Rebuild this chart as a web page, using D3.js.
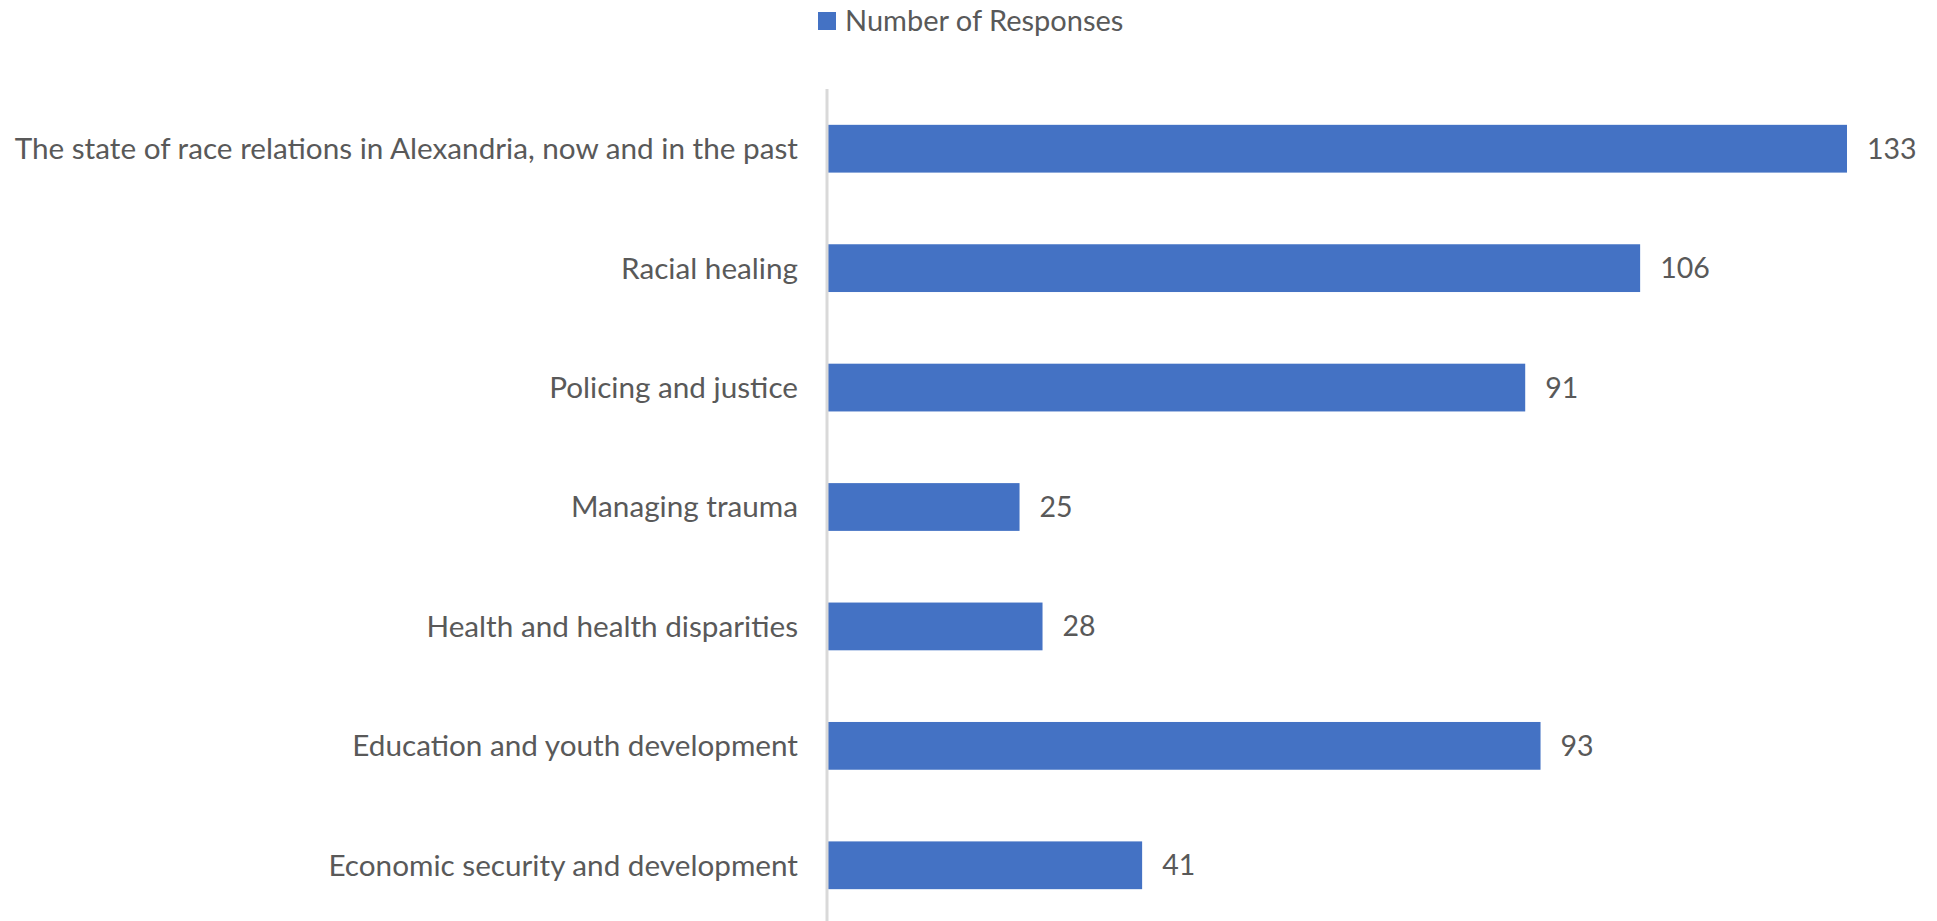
<!DOCTYPE html>
<html>
<head>
<meta charset="utf-8">
<script src="https://cdn.jsdelivr.net/npm/d3@7"></script>
<style>
  body { margin: 0; background: #ffffff; }
  svg { display: block; font-family: Lato, "Open Sans", sans-serif; }
  .cat-label, .val-label, .legend-label { fill: #595959; }
</style>
</head>
<body>
<svg class="bar-chart" width="1937" height="921"></svg>
<script>
// data (top to bottom)
var categories = [
  'The state of race relations in Alexandria, now and in the past',
  'Racial healing',
  'Policing and justice',
  'Managing trauma',
  'Health and health disparities',
  'Education and youth development',
  'Economic security and development'
];
var responses = [133, 106, 91, 25, 28, 93, 41];
var seriesName = 'Number of Responses';

var data = categories.map(function(c, i) {
  return {category: c, value: responses[i]};
});

var svg = d3.select('.bar-chart');
var axisX = 828;

var xScale = d3.scaleLinear()
    .domain([0, 133])
    .range([axisX, 1847]);

var yScale = d3.scaleBand()
    .domain(categories)
    .range([89, 925])
    .paddingInner(0.6)
    .paddingOuter(0.3);

// bars
svg.selectAll('.bar')
    .data(data)
  .enter().append('rect')
    .attr('class', 'bar')
    .attr('x', xScale(0))
    .attr('y', function(d) { return yScale(d.category); })
    .attr('width', function(d) { return xScale(d.value) - xScale(0); })
    .attr('height', yScale.bandwidth())
    .style('fill', '#4472c4');

// vertical category axis line
svg.append('line')
    .attr('x1', axisX - 1)
    .attr('x2', axisX - 1)
    .attr('y1', 89)
    .attr('y2', 921)
    .style('stroke', '#d9d9d9')
    .style('stroke-width', 3);

// category labels
svg.selectAll('.cat-label')
    .data(data)
  .enter().append('text')
    .attr('class', 'cat-label')
    .attr('x', axisX - 30)
    .attr('y', function(d) { return yScale(d.category) + yScale.bandwidth() / 2; })
    .attr('dy', '0.35em')
    .attr('text-anchor', 'end')
    .style('font-size', '29.7px')
    .text(function(d) { return d.category; });

// value labels
svg.selectAll('.val-label')
    .data(data)
  .enter().append('text')
    .attr('class', 'val-label')
    .attr('x', function(d) { return xScale(d.value) + 20; })
    .attr('y', function(d) { return yScale(d.category) + yScale.bandwidth() / 2; })
    .attr('dy', '0.35em')
    .style('font-size', '28.5px')
    .text(function(d) { return d.value; });

// legend
var legend = svg.append('g').attr('class', 'legend');
legend.append('rect')
    .attr('x', 818)
    .attr('y', 12)
    .attr('width', 18)
    .attr('height', 18)
    .style('fill', '#4472c4');
legend.append('text')
    .attr('class', 'legend-label')
    .attr('x', 845)
    .attr('y', 31)
    .style('font-size', '29px')
    .text(seriesName);
</script>
</body>
</html>
